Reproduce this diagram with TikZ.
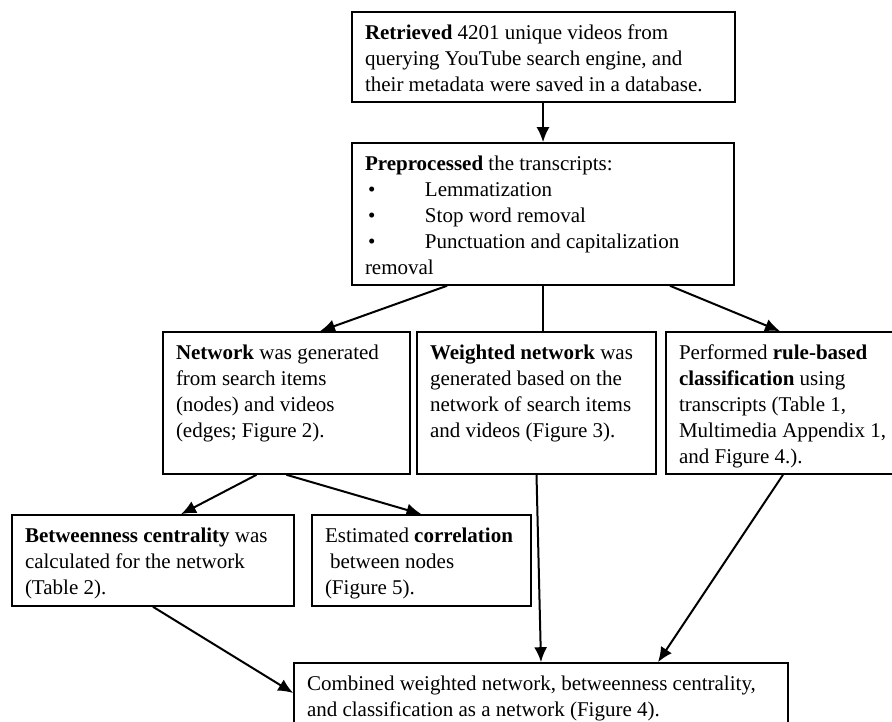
\documentclass[tikz,border=0pt]{standalone}
\usepackage{fontspec}
\setmainfont{Liberation Serif}
\usepackage{tikz}
\usetikzlibrary{arrows.meta}
\usetikzlibrary{positioning}
\pgfdeclarelayer{edgelayer}
\pgfdeclarelayer{nodelayer}
\pgfsetlayers{edgelayer,nodelayer,main}
\tikzstyle{stepbox}=[draw=black,line width=1.6pt,rectangle,inner sep=13pt,fill=white,font=\fontsize{21pt}{26pt}\selectfont]
\tikzstyle{flow}=[line width=2pt,-{Latex[length=15pt,width=13pt]}]
\tikzstyle{link}=[line width=2pt]
\newcommand{\boxtext}[3]{\parbox[c][#2][t]{#1}{\raggedright #3}}
\newcommand{\itm}{\makebox[60pt][l]{\hspace{3pt}\textbullet}}

\begin{document}
\begin{tikzpicture}[x=1pt,y=-1pt]
	\useasboundingbox (0, 0) rectangle (892, 722);
	\begin{pgfonlayer}{nodelayer}
		\clip (0, 0) rectangle (892, 722);
		\node [style=stepbox] (retr) at (543.5, 57) {\boxtext{357pt}{64pt}{\textbf{Retrieved} 4201 unique videos from\\ querying YouTube search engine, and\\ their metadata were saved in a database.}};
		\node [style=stepbox] (prep) at (543, 214) {\boxtext{356pt}{116pt}{\textbf{Preprocessed} the transcripts:\\ \itm Lemmatization\\ \itm Stop word removal\\ \itm Punctuation and capitalization\\ removal}};
		\node [style=stepbox] (net) at (286.5, 403) {\boxtext{221pt}{116pt}{\textbf{Network} was generated\\ from search items\\ (nodes) and videos\\ (edges; Figure 2).}};
		\node [style=stepbox] (wnet) at (536.5, 403) {\boxtext{213pt}{116pt}{\textbf{Weighted network} was\\ generated based on the\\ network of search items\\ and videos (Figure 3).}};
		\node [style=stepbox] (rule) at (789, 403) {\boxtext{220pt}{116pt}{Performed \textbf{rule-based}\\ \textbf{classification} using\\ transcripts (Table 1,\\ Multimedia Appendix 1,\\ and Figure 4.).}};
		\node [style=stepbox] (betw) at (153, 560.5) {\boxtext{256pt}{65pt}{\textbf{Betweenness centrality} was\\ calculated for the network\\ (Table 2).}};
		\node [style=stepbox] (corr) at (421.5, 560.5) {\boxtext{193pt}{65pt}{Estimated \textbf{correlation}\\ \hspace{5pt}between nodes\\ (Figure 5).}};
		\node [style=stepbox] (comb) at (541, 708) {\boxtext{468pt}{64pt}{Combined weighted network, betweenness centrality,\\ and classification as a network (Figure 4).}};
	\end{pgfonlayer}
	\begin{pgfonlayer}{edgelayer}
		\clip (0, 0) rectangle (892, 722);
		\draw [style=flow] (prep.north |- retr.south) to (prep.north);
		\draw [style=flow] ([xshift=-96pt]prep.south) to ([xshift=33.5pt]net.north);
		\draw [style=link] (prep.south) to (prep.south |- wnet.north);
		\draw [style=flow] ([xshift=127pt]prep.south) to ([xshift=-9pt]rule.north);
		\draw [style=flow] ([xshift=-30pt]net.south) to ([xshift=28pt]betw.north);
		\draw [style=flow] (net.south) to (corr.north);
		\draw [style=flow] (betw.south) to ([yshift=15pt]comb.west);
		\draw [style=flow] (wnet.south) to (comb.north);
		\draw [style=flow] ([xshift=-6pt]rule.south) to ([xshift=117pt]comb.north);
	\end{pgfonlayer}
\end{tikzpicture}
\end{document}
